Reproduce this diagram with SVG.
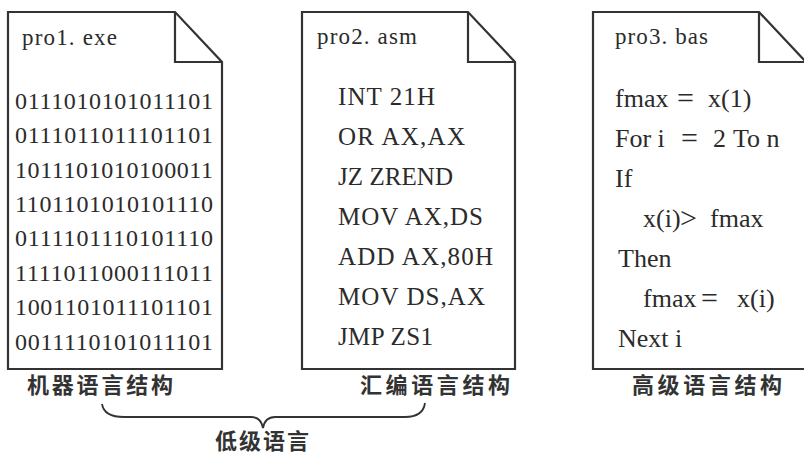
<svg xmlns="http://www.w3.org/2000/svg" width="804" height="456" viewBox="0 0 804 456">
<style>
.doc{fill:#fff;stroke:#333;stroke-width:2.2;stroke-linejoin:miter}
.fold{fill:none;stroke:#333;stroke-width:2.2}
.code{font-family:"Liberation Serif","Times New Roman",serif;fill:#2b2b2b}
.bin{font-size:24px}
.asm{font-size:25px}
.bas{font-size:26px}
.hdr{font-size:23px}
.op{font-size:30px}
.cap{font-family:"Noto Sans CJK SC","Noto Sans",sans-serif;font-weight:bold;font-size:22px;fill:#333}
.brace{fill:none;stroke:#333;stroke-width:1.8}
</style>
<rect width="804" height="456" fill="#fff"/>

<g id="machine">
  <path class="doc" d="M8,12 H175 L222,62 V369 H8 Z"/>
  <path class="fold" d="M175,12 V62 H222"/>
  <text class="code hdr" x="22" y="45" textLength="95" lengthAdjust="spacing">pro1. exe</text>
  <g class="code bin">
    <text x="15" y="109" textLength="198" lengthAdjust="spacing">0111010101011101</text>
    <text x="15" y="143" textLength="198" lengthAdjust="spacing">0111011011101101</text>
    <text x="15" y="178" textLength="198" lengthAdjust="spacing">1011101010100011</text>
    <text x="15" y="212" textLength="198" lengthAdjust="spacing">1101101010101110</text>
    <text x="15" y="246" textLength="198" lengthAdjust="spacing">0111101110101110</text>
    <text x="15" y="281" textLength="198" lengthAdjust="spacing">1111011000111011</text>
    <text x="15" y="315" textLength="198" lengthAdjust="spacing">1001101011101101</text>
    <text x="15" y="350" textLength="198" lengthAdjust="spacing">0011110101011101</text>
  </g>
  <text class="cap" x="27" y="393" textLength="146" lengthAdjust="spacing">机器语言结构</text>
</g>

<g id="assembly">
  <path class="doc" d="M302,12 H468 L515,62 V369 H302 Z"/>
  <path class="fold" d="M468,12 V62 H515"/>
  <text class="code hdr" x="317" y="44" textLength="100" lengthAdjust="spacing">pro2. asm</text>
  <g class="code asm">
    <text x="338" y="105" textLength="97" lengthAdjust="spacing">INT 21H</text>
    <text x="338" y="145" textLength="127" lengthAdjust="spacing">OR AX,AX</text>
    <text x="338" y="185" textLength="115" lengthAdjust="spacing">JZ ZREND</text>
    <text x="338" y="225" textLength="145" lengthAdjust="spacing">MOV AX,DS</text>
    <text x="338" y="265" textLength="155" lengthAdjust="spacing">ADD AX,80H</text>
    <text x="338" y="305" textLength="147" lengthAdjust="spacing">MOV DS,AX</text>
    <text x="338" y="345" textLength="95" lengthAdjust="spacing">JMP ZS1</text>
  </g>
  <text class="cap" x="360" y="393" textLength="150" lengthAdjust="spacing">汇编语言结构</text>
</g>

<g id="highlevel">
  <path class="doc" d="M593,12 H759 L806,62 V369 H593 Z"/>
  <path class="fold" d="M759,12 V62 H806"/>
  <text class="code hdr" x="615" y="44" textLength="93" lengthAdjust="spacing">pro3. bas</text>
  <g class="code bas">
    <text y="107"><tspan x="615">fmax</tspan><tspan class="op" x="677" y="108">=</tspan><tspan x="708" y="107">x(1)</tspan></text>
    <text y="147"><tspan x="615">For i</tspan><tspan class="op" x="681" y="148">=</tspan><tspan x="713" y="147">2</tspan><tspan x="733">To n</tspan></text>
    <text x="615" y="187">If</text>
    <text y="227"><tspan x="643">x(i)</tspan><tspan class="op" x="680" y="228">&gt;</tspan><tspan x="710" y="227">fmax</tspan></text>
    <text x="618" y="267">Then</text>
    <text y="307"><tspan x="643">fmax</tspan><tspan class="op" x="701" y="308">=</tspan><tspan x="737" y="307">x(i)</tspan></text>
    <text x="618" y="347">Next i</text>
  </g>
  <text class="cap" x="632" y="393" textLength="150" lengthAdjust="spacing">高级语言结构</text>
</g>

<g id="connectors">
  <path class="brace" d="M102,404 Q104,417 124,417 L251,417 Q261,417 263,428 Q265,417 275,417 L405,417 Q423,417 425,403"/>
</g>

<g id="lowlevel">
  <text class="cap" x="263" y="449" text-anchor="middle" letter-spacing="2" font-size="21">低级语言</text>
</g>
</svg>
